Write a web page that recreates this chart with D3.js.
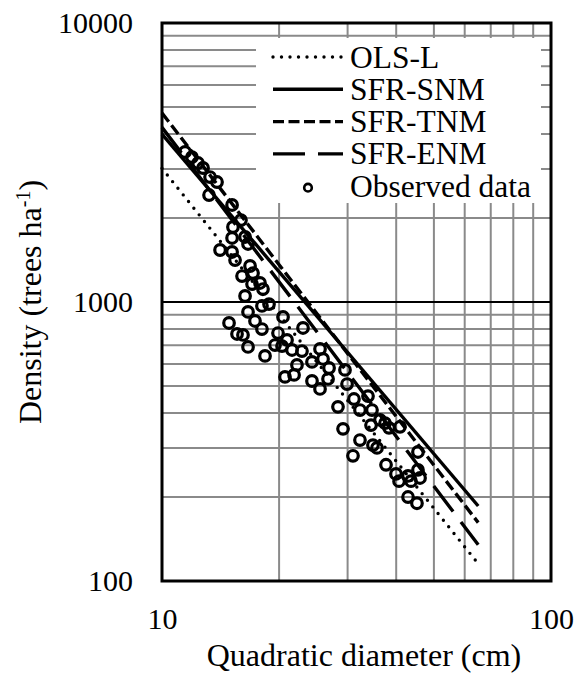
<!DOCTYPE html>
<html>
<head>
<meta charset="utf-8">
<script src="https://cdn.jsdelivr.net/npm/d3@7"></script>
<style>
	body { margin: 0; background: #fff; }
	svg text { font-family: "Liberation Serif", "Times New Roman", serif; fill: #000; }
</style>
</head>
<body>
<svg id="chart" width="588" height="680" font-family="Liberation Serif, Times New Roman, serif"></svg>
<script>
"use strict";

// AXES
const xTicks = [10, 100];
const yTicks = [100, 1000, 10000];

// OBSERVED DATA (quadratic diameter cm, density trees/ha)
const diameter = [
	11.46, 11.94, 12.38, 12.75, 13.29, 13.85, 13.21, 15.14, 15.96, 15.22,
	16.35, 15.14, 16.64, 14.1, 15.14, 15.41, 16.84, 16.06, 17.14, 17.04,
	17.86, 18.18, 16.35, 18.07, 18.84, 16.64, 20.47, 17.34, 14.87, 18.07,
	15.59, 16.15, 19.87, 23.04, 16.64, 20.96, 19.52, 20.35, 21.59, 22.9,
	18.4, 22.23, 24.3, 25.48, 25.94, 20.71, 21.85, 24.3, 26.88, 29.54,
	25.48, 26.72, 29.9, 28.34, 31.15, 33.85, 32.28, 34.66, 29.2, 34.46,
	37.44, 38.33, 40.91, 32.28, 34.86, 35.7, 30.97, 37.66, 45.5, 39.95,
	40.68, 42.9, 43.67, 45.5, 46.06, 42.9, 45.23, 36.34,
];
const density = [
	3449, 3308, 3149, 3022, 2805, 2692, 2418, 2227, 1967, 1857,
	1710, 1696, 1614, 1536, 1511, 1414, 1346, 1239, 1270, 1160,
	1170, 1113, 1051, 968, 983, 921, 884, 855, 841, 800,
	768, 762, 774, 807, 690, 731, 701, 695, 673, 667,
	641, 595, 610, 679, 625, 539, 548, 521, 580, 571,
	488, 530, 508, 421, 449, 460, 410, 410, 351, 362,
	368, 354, 357, 320, 307, 300, 281, 261, 290, 242,
	228, 238, 228, 250, 234, 200, 190, 378,
];

// FITTED LINES (end points, straight in log-log)
const lineNames = ["OLS-L", "SFR-SNM", "SFR-TNM", "SFR-ENM"];
const lineD = [10, 65];
const olsN = [3013, 115.3];
const snmN = [4000, 185.7];
const tnmN = [4757, 161.9];
const enmN = [4225, 134.9];
const lineN = [olsN, snmN, tnmN, enmN];

const lineStyle = [
	{ dash: "0,8.5", cap: "round", width: 3.4 },
	{ dash: null, cap: "butt", width: 3.4 },
	{ dash: "11,4.5", cap: "butt", width: 3.4 },
	{ dash: "32,13", cap: "butt", width: 3.4 },
];

const margin = { top: 23, right: 37, bottom: 99, left: 162 };
const svg = d3.select("#chart");
const W = +svg.attr("width");
const H = +svg.attr("height");

const x = d3.scaleLog().domain([10, 100]).range([margin.left, W - margin.right]);
const y = d3.scaleLog().domain([100, 10000]).range([H - margin.bottom, margin.top]);

// grid
const xGrid = x.ticks().filter((d) => d > 10 && d < 100);
const yGrid = y.ticks().filter((d) => d > 100 && d < 10000 && d !== 1000);

const grid = svg.append("g");
grid.selectAll(".vg")
	.data(xGrid)
	.enter()
	.append("line")
	.attr("x1", (d) => x(d))
	.attr("x2", (d) => x(d))
	.attr("y1", y(10000))
	.attr("y2", y(100))
	.attr("stroke", "#8a8a8a")
	.attr("stroke-width", 2);
grid.selectAll(".hg")
	.data(yGrid)
	.enter()
	.append("line")
	.attr("x1", x(10))
	.attr("x2", x(100))
	.attr("y1", (d) => y(d))
	.attr("y2", (d) => y(d))
	.attr("stroke", "#8a8a8a")
	.attr("stroke-width", 2);
grid.append("line")
	.attr("x1", x(10))
	.attr("x2", x(100))
	.attr("y1", y(1000))
	.attr("y2", y(1000))
	.attr("stroke", "#000")
	.attr("stroke-width", 2);

// legend background covers the grid
const legX = 256, legY = 38;
svg.append("rect")
	.attr("x", legX)
	.attr("y", legY)
	.attr("width", 285)
	.attr("height", 165)
	.attr("fill", "#fff");

// lines
const lineGen = d3.line().x((d) => x(d[0])).y((d) => y(d[1]));
lineNames.forEach((name, i) => {
	const pts = lineD.map((d, j) => [d, lineN[i][j]]);
	svg.append("path")
		.attr("d", lineGen(pts))
		.attr("fill", "none")
		.attr("stroke", "#000")
		.attr("stroke-width", lineStyle[i].width)
		.attr("stroke-linecap", lineStyle[i].cap)
		.attr("stroke-dasharray", lineStyle[i].dash);
});

// observed points
svg.append("g")
	.selectAll("circle")
	.data(diameter.map((d, i) => [d, density[i]]))
	.enter()
	.append("circle")
	.attr("cx", (d) => x(d[0]))
	.attr("cy", (d) => y(d[1]))
	.attr("r", 5.3)
	.attr("fill", "none")
	.attr("stroke", "#000")
	.attr("stroke-width", 3.2);

// frame
svg.append("rect")
	.attr("x", x(10))
	.attr("y", y(10000))
	.attr("width", x(100) - x(10))
	.attr("height", y(100) - y(10000))
	.attr("fill", "none")
	.attr("stroke", "#000")
	.attr("stroke-width", 3);

// axes
const xAxis = svg.append("g")
	.attr("transform", `translate(0,${y(100)})`)
	.call(d3.axisBottom(x).tickValues(xTicks).tickFormat(d3.format("d")).tickSize(0).tickPadding(27));
const yAxis = svg.append("g")
	.attr("transform", `translate(${x(10)},0)`)
	.call(d3.axisLeft(y).tickValues(yTicks).tickFormat(d3.format("d")).tickSize(0).tickPadding(29));
[xAxis, yAxis].forEach((a) => {
	a.attr("font-family", null);
	a.select(".domain").remove();
	a.selectAll("text").style("font-size", "30px").attr("fill", "#000");
});

// axis titles
svg.append("text")
	.attr("x", 364)
	.attr("y", 666)
	.attr("text-anchor", "middle")
	.style("font-size", "32px")
	.text("Quadratic diameter (cm)");

const yTitle = svg.append("text")
	.attr("transform", "translate(41,302) rotate(-90)")
	.attr("text-anchor", "middle")
	.style("font-size", "32px");
yTitle.append("tspan").text("Density (trees ha");
yTitle.append("tspan").attr("dy", -11).style("font-size", "20px").text("-1");
yTitle.append("tspan").attr("dy", 11).text(")");

// legend
const rowH = 32.3;
const leg = svg.append("g");
lineNames.forEach((name, i) => {
	const ry = 57 + i * rowH;
	leg.append("line")
		.attr("x1", 273)
		.attr("x2", 343)
		.attr("y1", ry)
		.attr("y2", ry)
		.attr("stroke", "#000")
		.attr("stroke-width", 3.4)
		.attr("stroke-linecap", lineStyle[i].cap)
		.attr("stroke-dasharray", lineStyle[i].dash);
	leg.append("text")
		.attr("x", 350)
		.attr("y", ry + 10.5)
		.style("font-size", "31.5px")
		.text(name);
});
const oy = 57 + 4 * rowH;
leg.append("circle")
	.attr("cx", 308)
	.attr("cy", oy + 1.5)
	.attr("r", 3.8)
	.attr("fill", "none")
	.attr("stroke", "#000")
	.attr("stroke-width", 2.6);
leg.append("text")
	.attr("x", 350)
	.attr("y", oy + 10.5)
	.style("font-size", "31.5px")
	.text("Observed data");
</script>
</body>
</html>
